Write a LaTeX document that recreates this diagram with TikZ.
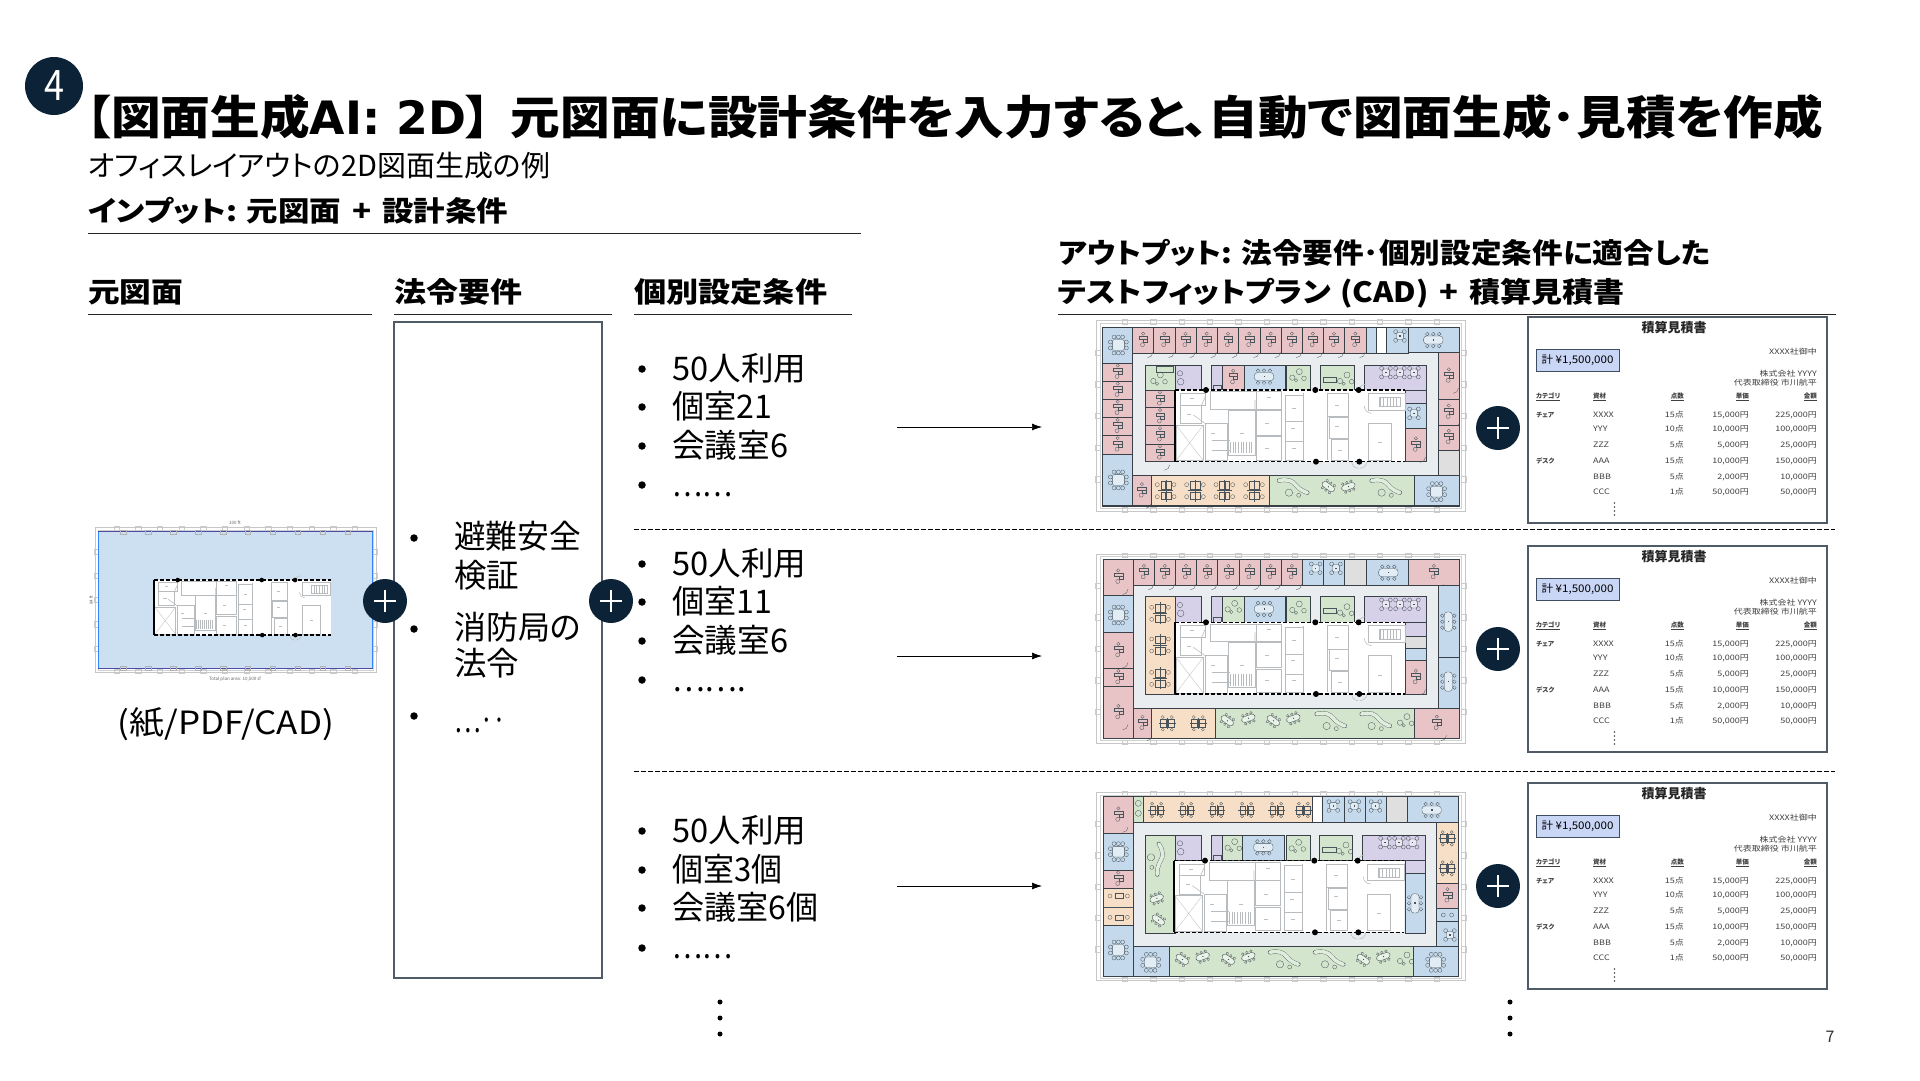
\documentclass[tikz,border=0pt]{standalone}
\usepackage{fontspec}
\usepackage{graphicx}
\setmainfont[RawFeature=+palt]{Noto Sans CJK JP}
\newfontfamily\lat{DejaVu Sans}
\definecolor{navy}{HTML}{0B2237}
\definecolor{cr}{HTML}{E8C4C6}
\definecolor{cb}{HTML}{C5D9EC}
\definecolor{cg}{HTML}{D3E5CD}
\definecolor{co}{HTML}{F6DFC6}
\definecolor{cp}{HTML}{D6D0E8}
\definecolor{ck}{HTML}{DFDFDF}
\definecolor{corr}{HTML}{E9EDF0}
\definecolor{wallc}{HTML}{3A4048}
\definecolor{furn}{HTML}{4A555B}
\definecolor{grayw}{HTML}{B9BCBE}
\definecolor{boxc}{HTML}{4F5B66}
\definecolor{badge}{HTML}{CAD6F6}
\definecolor{srcblue}{HTML}{CDE0F1}
\usetikzlibrary{arrows.meta}
\tikzset{
 fur/.style={draw=furn,line width=.32pt},
 gw/.style={draw=grayw,line width=.55pt},
 heading/.style={font=\bfseries\fontsize{28}{28}\selectfont,anchor=base west,inner sep=0pt},
 rule/.style={draw=black!85,line width=1pt},
 li/.style={font=\fontsize{32.5}{32.5}\selectfont,anchor=base west,inner sep=0pt},
 bul/.style={circle,fill=black,inner sep=0pt,minimum size=7.5pt},
 plus/.style={circle,fill=navy,minimum size=44pt,inner sep=0pt},
 arr/.style={draw=black,line width=.7pt,-{Latex[length=10pt,width=7pt]}},
 sep/.style={draw=black,line width=.8pt,dash pattern=on 4.5pt off 2.5pt},
 dott/.style={circle,fill=black,inner sep=0pt,minimum size=5pt},
 qt/.style={font=\fontsize{7.5}{7.5}\selectfont,text=black!75,inner sep=0pt},
}
\newcommand\RR[5]{\path[fill=#1,draw=wallc,line width=.45pt] (#2,#3) rectangle (#4,#5);}
\newcommand\Dsk[2]{\begin{scope}[shift={(#1,#2)}]
 \draw[fur] (0,-20) circle (5); \draw[fur] (-13,-12) rectangle (13,-3); \draw[fur] (1,-3) rectangle (13,6); \draw[fur] (-2,13) circle (6);
 \draw[fur] (29,36) arc (0:90:16);
 \end{scope}}
\newcommand\RD[4]{\RR{cr}{#1}{#2}{#3}{#4}\pgfmathsetmacro\cx{(#1+#3)/2}\pgfmathsetmacro\cy{(#2+#4)/2}\Dsk{\cx}{\cy}}
\newcommand\Mtg[3]{\begin{scope}[shift={(#1,#2)},rotate=#3]
 \foreach \q in {-18,0,18}{\draw[fur] (\q,-18) circle (5.5);\draw[fur] (\q,18) circle (5.5);}
 \draw[fur,fill=white,fill opacity=.5,rounded corners=3] (-29,-12) rectangle (29,12);
 \fill[furn] (-1,-2) rectangle (3,2);
 \end{scope}}
\newcommand\Rnd[2]{\begin{scope}[shift={(#1,#2)}]
 \foreach \p/\q in {-13/-13,13/-13,-13/13,13/13}{\draw[fur] (\p,\q) circle (6);}
 \draw[fur,fill=white,fill opacity=.5,rounded corners=2] (-11,-11) rectangle (11,11);
 \fill[furn] (-2,-2) rectangle (2,2);
 \end{scope}}
\newcommand\BigT[2]{\begin{scope}[shift={(#1,#2)}]
 \foreach \q in {-13,0,13}{\draw[fur] (\q,-24) circle (6);\draw[fur] (\q,24) circle (6);}
 \draw[fur] (-24,-9) circle (6);\draw[fur] (-24,9) circle (6);\draw[fur] (24,-9) circle (6);\draw[fur] (24,9) circle (6);
 \draw[fur,fill=white,fill opacity=.5,rounded corners=2] (-18,-16) rectangle (18,16);
 \end{scope}}
\newcommand\Wk[2]{\begin{scope}[shift={(#1,#2)}]
 \foreach \p/\q in {-25/-18,25/-18,-25/18,25/18}{\draw[fur] (\p,\q) circle (6);}
 \draw[fur] (-15,-27) rectangle (-1,-5);\draw[fur] (1,-27) rectangle (15,-5);
 \draw[fur] (-15,5) rectangle (-1,27);\draw[fur] (1,5) rectangle (15,27);
 \draw[fur] (0,-33) -- (0,33);\draw[fur] (-22,0) -- (22,0);
 \end{scope}}
\newcommand\WkH[2]{\begin{scope}[shift={(#1,#2)},rotate=90,scale=.75]
 \foreach \p/\q in {-25/-18,25/-18,-25/18,25/18}{\draw[fur] (\p,\q) circle (6);}
 \draw[fur] (-15,-27) rectangle (-1,-5);\draw[fur] (1,-27) rectangle (15,-5);
 \draw[fur] (-15,5) rectangle (-1,27);\draw[fur] (1,5) rectangle (15,27);
 \draw[fur] (0,-33) -- (0,33);\draw[fur] (-22,0) -- (22,0);
 \end{scope}}
\newcommand\Sofa[3]{\begin{scope}[shift={(#1,#2)},rotate=#3]
 \draw[furn,line width=.32pt,double=cg!70!white,double distance=3.6pt,line cap=round] (-45,-18) .. controls (-20,-24) and (-5,-18) .. (5,-5) .. controls (15,8) and (30,15) .. (40,18);
 \draw[fur] (-15,18) circle (11); \draw[fur] (14,26) circle (6);
 \end{scope}}
\newcommand\Cir[2]{\begin{scope}[shift={(#1,#2)}]
 \draw[fur] (-15,8) circle (8);\draw[fur] (6,-10) circle (9);\draw[fur] (20,10) circle (7);\draw[fur] (-4,16) circle (5);
 \end{scope}}
\newcommand\Gt[3]{\begin{scope}[shift={(#1,#2)},rotate=#3,scale=.72]\Mtg{0}{0}{0}\end{scope}}
\newcommand\Core[2]{\begin{scope}[shift={(#1,#2)}]
 \fill[white] (255,240) rectangle (945,455);
 \foreach \a/\b/\c/\d in {272/250/345/285, 272/285/335/340, 258/345/340/452, 362/245/500/298, 345/340/412/452, 415/300/495/435, 500/245/575/298, 500/300/575/375, 500/380/575/450, 585/255/640/335, 585/335/640/395, 585/395/640/450, 712/250/775/320, 718/322/775/385, 725/388/775/450, 835/250/945/300, 835/340/905/450, 868/262/930/290}{\draw[gw] (\a,\b) rectangle (\c,\d);}
 \draw[gw,line width=.3pt] (258,345) -- (340,452) (258,452) -- (340,345);
 \foreach \q in {420,428,...,490}{\draw[gw,line width=.3pt] (\q,395) -- (\q,430);}
 \foreach \q in {365,375,...,405}{\draw[gw,line width=.3pt] (\q,390) -- (\q+15,390);\draw[gw,line width=.3pt] (\q,420) -- (\q+15,420);}
 \foreach \q in {870,880,...,930}{\draw[gw,line width=.3pt] (\q,262) -- (\q,290);}
 \draw[gw] (345,340) -- (310,315) (335,285) -- (345,262) (495,298) -- (495,270);
 \draw[gw] (640,250) -- (640,450) (712,250) -- (712,450);
 \draw[gw] (805,245) arc (180:270:22) (845,310) arc (90:180:22);
 \draw[gw] (785,455) arc (180:90:20) (830,455) arc (0:90:20);
 \foreach \p/\q in {305/265,298/312,368/370,455/370,538/262,530/340,530/415,612/295,610/355,612/415,740/285,740/348,750/420,870/398}{\fill[black!25] (\p-6,\q-1) rectangle (\p+6,\q+1);}
 \draw[black,line width=1.2pt,dash pattern=on 4pt off 2pt] (255,240) -- (945,240) (255,455) -- (945,455);
 \draw[black,line width=1.2pt] (255,240) -- (255,455);
 \foreach \p/\q in {348/240,676/240,806/240,678/455,808/455}{\fill[black] (\p,\q) circle (9);}
 \end{scope}}
\newcommand\Frm[4]{
 \draw[draw=black!22,line width=.8pt] (#1,#2) rectangle (#3,#4);
 \draw[draw=black!18,line width=.4pt] (#1+10,#2+8) rectangle (#3-10,#4-8);
 \foreach \k in {1,...,12}{\pgfmathsetmacro\xk{#1+\k*(#3-#1)/13}
  \draw[draw=black!20,line width=.4pt] (\xk-8,#2-3) rectangle (\xk+8,#2+10);
  \draw[draw=black!20,line width=.4pt] (\xk-8,#4-10) rectangle (\xk+8,#4+3);}
 \foreach \k in {1,...,5}{\pgfmathsetmacro\yk{#2+\k*(#4-#2)/6}
  \draw[draw=black!20,line width=.4pt] (#1-3,\yk-8) rectangle (#1+10,\yk+8);
  \draw[draw=black!20,line width=.4pt] (#3-10,\yk-8) rectangle (#3+3,\yk+8);}
}
\newcommand\SX[1]{\scalebox{1.2}[1]{#1}}
\newcommand\Quote[2]{\begin{scope}[shift={(1528,#2)}]
 \coordinate (qa#1) at (0,0); \coordinate (qb#1) at (299,206);
 \draw[draw=boxc,line width=1.1pt] (qa#1) rectangle (qb#1);
 \node[font=\bfseries\fontsize{13}{13}\selectfont,text=black!85,inner sep=0pt] (q#1t) at (146,11) {積算見積書};
 \node[draw=navy!80,line width=1pt,fill=badge,minimum width=83pt,minimum height=22pt,inner sep=0pt,font=\fontsize{10.5}{10.5}\selectfont] (q#1b) at (49.5,43) {\resizebox{72pt}{\height}{計 ¥1,500,000}};
 \node[qt,anchor=east] (q#1c) at (289,35) {\SX{XXXX社御中}};
 \node[qt,anchor=east] (q#1d) at (289,57) {\SX{株式会社 YYYY}};
 \node[qt,anchor=east] (q#1e) at (289,66) {\SX{代表取締役 市川航平}};
 \node[qt,anchor=west,font=\bfseries\fontsize{6.5}{6.5}\selectfont] (q#1h1) at (8,80) {\underline{カテゴリ}};
 \node[qt,anchor=west,font=\bfseries\fontsize{6.5}{6.5}\selectfont] (q#1h2) at (65,80) {\underline{資材}};
 \node[qt,anchor=east,font=\bfseries\fontsize{6.5}{6.5}\selectfont] (q#1h3) at (156,80) {\underline{点数}};
 \node[qt,anchor=east,font=\bfseries\fontsize{6.5}{6.5}\selectfont] (q#1h4) at (221,80) {\underline{単価}};
 \node[qt,anchor=east,font=\bfseries\fontsize{6.5}{6.5}\selectfont] (q#1h5) at (289,80) {\underline{金額}};
 \foreach \i/\yy/\ca/\ma/\qu/\un/\am in {1/98/チェア/XXXX/15点/{15,000円}/{225,000円},2/112/{}/YYY/10点/{10,000円}/{100,000円},3/128/{}/ZZZ/5点/{5,000円}/{25,000円},4/144/デスク/AAA/15点/{10,000円}/{150,000円},5/160/{}/BBB/5点/{2,000円}/{10,000円},6/175/{}/CCC/1点/{50,000円}/{50,000円}}{
  \node[qt,anchor=west,font=\bfseries\fontsize{6.5}{6.5}\selectfont] (q#1a\i) at (8,\yy) {\ca};
  \node[qt,anchor=west] (q#1m\i) at (65,\yy) {\SX{\ma}};
  \node[qt,anchor=east] (q#1q\i) at (156,\yy) {\SX{\qu}};
  \node[qt,anchor=east] (q#1u\i) at (221,\yy) {\SX{\un}};
  \node[qt,anchor=east] (q#1v\i) at (289,\yy) {\SX{\am}};
 }
 \foreach \i/\yy in {1/186,2/190,3/194,4/198}{\fill[black!70] (86.5,\yy) circle (.8);}
 \end{scope}}
\newcommand\Plus[2]{\node[plus] (#1) at #2 {};
 \draw[white,line width=1.4pt] ([xshift=-11pt]#1.center) -- ([xshift=11pt]#1.center) ([yshift=-11pt]#1.center) -- ([yshift=11pt]#1.center);}
\newcommand\FW[2]{\resizebox{#1pt}{\height}{#2}}
\begin{document}
\begin{tikzpicture}[x=1pt,y=-1pt]
\useasboundingbox (0,0) rectangle (1920,1080);
\fill[white] (0,0) rectangle (1920,1080);

% header
\node[circle,fill=navy,minimum size=58pt,inner sep=0pt,text=white,font=\fontsize{42}{42}\selectfont] (num) at (54,86) {\FW{20}{4}};
\node[anchor=base west,inner sep=0pt,font=\bfseries\fontsize{46}{46}\selectfont] (title) at (86,134) {\FW{1737}{【図面生成\scalebox{.92}[1]{\lat AI: 2D}】\hspace{.4em}元図面に設計条件を入力すると、自動で図面生成･見積を作成}};
\node[anchor=base west,inner sep=0pt,font=\fontsize{29}{29}\selectfont] (sub) at (88,176) {\FW{462}{オフィスレイアウトの2D図面生成の例}};
\node[heading] (inh) at (88,221) {\FW{420}{インプット: 元図面\hspace{.35em}+\hspace{.35em}設計条件}};
\coordinate (r0a) at (88,233); \coordinate (r0b) at (861,233);
\draw[rule] (r0a) -- (r0b);
\node[heading] (h1) at (88,302) {\FW{95}{元図面}};
\node[heading] (h2) at (394,302) {\FW{128}{法令要件}};
\node[heading] (h3) at (634,302) {\FW{193}{個別設定条件}};
\foreach \n/\a/\b in {1/88/372,2/394/612,3/634/852}{\coordinate (ra\n) at (\a,314); \coordinate (rb\n) at (\b,314); \draw[rule] (ra\n) -- (rb\n);}
\node[heading] (o1) at (1058,263) {\FW{652}{アウトプット: 法令要件･個別設定条件に適合した}};
\node[heading] (o2) at (1058,302) {\FW{566}{テストフィットプラン\hspace{.3em}(CAD)\hspace{.35em}+\hspace{.35em}積算見積書}};
\coordinate (ra4) at (1058,314); \coordinate (rb4) at (1836,314); \draw[rule] (ra4) -- (rb4);

% source plan
\begin{scope}[shift={(80,520)},x=.3333pt,y=-.3333pt]
 \Frm{45}{22}{890}{458}
 \fill[srcblue] (55,35) rectangle (878,445);
 \draw[draw=black!22,line width=.4pt] (45,22) rectangle (890,458);
 \draw[blue!60!cyan!80!white,line width=.8pt] (55,445) -- (55,35) (878,35) -- (878,445);
 \draw[blue!50!black!70,line width=.8pt] (55,35) -- (878,35) (55,445) -- (878,445);
 \foreach \k in {1,...,10}{\pgfmathsetmacro\xk{55+\k*823/11}\draw[draw=black!30,line width=.35pt] (\xk-8,30) rectangle (\xk+8,42) (\xk-8,438) rectangle (\xk+8,450);}
\end{scope}
\begin{scope}[shift={(88.7,518.6)},x=.256pt,y=-.256pt]
 \Core{0}{0}
\end{scope}
\node[font=\fontsize{4.5}{4.5}\selectfont,text=black!60,inner sep=0pt] (srcw) at (235,523) {100 ft};
\node[font=\fontsize{4.5}{4.5}\selectfont,text=black!60,inner sep=0pt,rotate=90] (srch) at (91,600) {84 ft};
\node[font=\fontsize{4.5}{4.5}\selectfont,text=black!60,inner sep=0pt] (srca) at (235,679) {Total plan area: 10,500 sf};
\node[anchor=center,inner sep=0pt,font=\fontsize{32}{32}\selectfont] (src) at (226,724) {\FW{216}{(紙/PDF/CAD)}};

% law box
\node[draw=boxc,line width=1.1pt,fill=white,minimum width=208pt,minimum height=656pt,inner sep=0pt] (law) at (498,650) {};
\foreach \n/\y in {1/538,2/629,3/716}{\node[bul] (lb\n) at (414,\y) {};}
\node[li] (l1) at (454,548) {\FW{127}{避難安全}};
\node[li] (l2) at (454,587) {検証};
\node[li] (l3) at (454,639) {\FW{127}{消防局の}};
\node[li] (l4) at (454,675) {法令};
\node[li] (l5) at (454,732) {\FW{52}{…‥}};

% conditions
\foreach \n/\y in {1/369,2/407,3/446,4/485,5/564,6/602,7/641,8/680,9/831,10/870,11/908,12/948}{\node[bul] (b\n) at (642,\y) {};}
\node[li] (c1) at (672,380) {\FW{134}{50人利用}};
\node[li] (c2) at (672,418) {\FW{100}{個室21}};
\node[li] (c3) at (672,457) {\FW{116}{会議室6}};
\node[li] (c4) at (672,496) {\FW{60}{……}};
\node[li] (c5) at (672,575) {\FW{134}{50人利用}};
\node[li] (c6) at (672,613) {\FW{100}{個室11}};
\node[li] (c7) at (672,652) {\FW{116}{会議室6}};
\node[li] (c8) at (672,691) {\FW{74}{…….}};
\node[li] (c9) at (672,842) {\FW{134}{50人利用}};
\node[li] (c10) at (672,881) {\FW{110}{個室3個}};
\node[li] (c11) at (672,919) {\FW{146}{会議室6個}};
\node[li] (c12) at (672,958) {\FW{60}{……}};

% separators
\coordinate (s1a) at (634,529); \coordinate (s1b) at (1835,529); \draw[sep] (s1a) -- (s1b);
\coordinate (s2a) at (634,771); \coordinate (s2b) at (1835,771); \draw[sep] (s2a) -- (s2b);

% arrows
\foreach \n/\y in {1/427,2/656,3/886}{\coordinate (aa\n) at (897,\y); \coordinate (ab\n) at (1042,\y); \draw[arr] (aa\n) -- (ab\n);}

% plan 1
\begin{scope}[shift={(1090,310)},x=.3333pt,y=-.3333pt]
 \Frm{20}{32}{1125}{603}
 \fill[corr] (130,130) rectangle (1045,497);
 \RR{cb}{38}{52}{128}{160}\BigT{85}{105}
 \foreach \a/\b in {128/191,191/255,255/318,318/382,382/446,446/510,510/574,574/637,637/700,700/764,764/828}{\RD{\a}{52}{\b}{130}}
 \RR{cb}{828}{52}{858}{130}\RR{white}{858}{52}{890}{130}\RR{cb}{890}{52}{955}{130}\Rnd{930}{78}
 \RR{cb}{955}{52}{1108}{128}\Mtg{1030}{90}{0}
 \foreach \a/\b in {160/213,213/268,268/322,322/377,377/432}{\RD{38}{\a}{128}{\b}}
 \RR{cb}{38}{432}{128}{588}\BigT{85}{510}
 \RD{1045}{128}{1108}{268}\RD{1045}{268}{1108}{345}\RD{1045}{345}{1108}{420}
 \RR{ck}{1045}{420}{1108}{497}
 \RR{cb}{973}{497}{1108}{588}\BigT{1040}{545}
 \RD{128}{497}{183}{588}
 \RR{co}{183}{497}{538}{588}\foreach \q in {227,315,403,492}{\Wk{\q}{542}}
 \RR{cg}{538}{497}{973}{588}\Sofa{612}{530}{0}\Gt{715}{530}{-35}\Gt{775}{530}{20}\Sofa{890}{530}{0}
 \RR{cg}{165}{165}{255}{240}\Cir{205}{205}\draw[fur] (198,168) rectangle (250,185);
 \RR{cp}{255}{165}{333}{240}\draw[fur] (270,190) circle (8) (272,215) circle (10);
 \RR{cp}{365}{165}{397}{240}\draw[fur] (368,225) rectangle (394,240);
 \RD{397}{165}{462}{240}
 \RR{cb}{462}{165}{585}{240}\Mtg{522}{200}{0}
 \RR{cg}{590}{165}{662}{240}\Cir{622}{195}
 \RR{cg}{690}{165}{792}{240}\Cir{765}{205}\draw[fur] (700,200) rectangle (740,215);
 \RR{cp}{822}{165}{1010}{240}\Rnd{888}{188}\Rnd{930}{188}\Rnd{972}{188}
 \RD{165}{240}{255}{293}\RD{165}{293}{255}{347}\RD{165}{347}{255}{402}\RD{165}{402}{255}{455}
 \RR{cp}{945}{240}{1010}{280}\RR{cb}{945}{280}{1010}{355}\Rnd{972}{310}\RD{945}{355}{1010}{455}
 \Core{0}{0}
 \draw[wallc,line width=1.3pt] (38,52) rectangle (1108,588);
\end{scope}

% plan 2
\begin{scope}[shift={(1090,550)},x=.3333pt,y=-.3333pt]
 \Frm{20}{12}{1125}{580}
 \fill[corr] (130,107) rectangle (1045,475);
 \foreach \a/\b in {130/193,193/256,256/320,320/383,383/447,447/510,510/574,574/637}{\RD{\a}{28}{\b}{107}}
 \RR{cb}{637}{28}{700}{107}\Rnd{677}{55}\RR{cb}{700}{28}{764}{107}\Rnd{738}{55}
 \RR{ck}{764}{28}{828}{107}
 \RR{cb}{828}{28}{955}{107}\Mtg{895}{68}{0}
 \RD{955}{28}{1108}{107}
 \RD{40}{28}{130}{135}
 \RR{cb}{40}{135}{130}{248}\BigT{85}{195}
 \RD{40}{248}{130}{355}\RD{40}{355}{130}{410}\RD{40}{410}{130}{565}
 \RR{cb}{1045}{107}{1108}{322}\Mtg{1075}{215}{90}
 \RR{cb}{1045}{322}{1108}{475}\Mtg{1075}{395}{90}
 \RD{130}{475}{185}{565}
 \RR{co}{185}{475}{375}{565}\WkH{232}{520}\WkH{325}{520}
 \RR{cg}{375}{475}{973}{565}\Gt{412}{512}{-35}\Gt{475}{505}{20}\Gt{550}{512}{-35}\Gt{610}{505}{20}\Sofa{725}{510}{0}\Sofa{860}{510}{0}\Cir{945}{510}
 \RD{973}{475}{1108}{565}
 \RR{co}{165}{140}{255}{433}\foreach \q in {190,285,385}{\Wk{210}{\q}}
 \RR{cp}{255}{140}{333}{217}\draw[fur] (270,165) circle (8) (272,190) circle (10);
 \RR{cp}{365}{140}{397}{217}\draw[fur] (368,200) rectangle (394,217);
 \RR{cg}{397}{140}{462}{217}\Cir{428}{170}
 \RR{cb}{462}{140}{585}{217}\Mtg{522}{177}{0}
 \RR{cg}{590}{140}{662}{217}\Cir{622}{172}
 \RR{cg}{690}{140}{792}{217}\Cir{765}{180}\draw[fur] (700,175) rectangle (740,190);
 \RR{cp}{822}{140}{1010}{217}\Rnd{888}{163}\Rnd{930}{163}\Rnd{972}{163}
 \RR{cp}{945}{217}{1010}{258}\RR{ck}{945}{258}{1010}{295}\RR{cb}{945}{295}{1010}{332}\RD{945}{332}{1010}{433}
 \Core{0}{-23}
 \draw[wallc,line width=1.3pt] (40,28) rectangle (1108,565);
\end{scope}

% plan 3
\begin{scope}[shift={(1090,790)},x=.3333pt,y=-.3333pt]
 \Frm{20}{8}{1125}{572}
 \fill[corr] (130,98) rectangle (1040,470);
 \RD{40}{20}{130}{130}
 \RR{cg}{130}{20}{160}{98}\draw[fur] (145,40) circle (9) (145,70) circle (9);
 \RR{co}{160}{20}{668}{98}\foreach \q in {200,290,380,470,560,640}{\WkH{\q}{60}}
 \RR{white}{668}{20}{698}{98}
 \foreach \a/\b in {698/762,762/825,825/888}{\RR{cb}{\a}{20}{\b}{98}\pgfmathsetmacro\cx{(\a+\b)/2}\Rnd{\cx}{48}}
 \RR{ck}{888}{20}{952}{98}
 \RR{cb}{952}{20}{1105}{98}\Mtg{1025}{60}{0}
 \RR{cb}{40}{130}{130}{240}\BigT{85}{185}
 \RD{40}{240}{130}{295}
 \RR{co}{40}{295}{130}{405}\draw[fur] (40,350) -- (130,350);\foreach \q in {60,112}{\draw[fur] (\q,318) circle (6) (\q,382) circle (6);}\draw[fur] (75,310) rectangle (98,325) (75,375) rectangle (98,390);
 \RR{cb}{40}{405}{130}{560}\BigT{85}{480}
 \RR{cb}{130}{470}{238}{560}\BigT{182}{517}
 \RR{cg}{238}{470}{970}{560}\Gt{277}{508}{-35}\Gt{338}{500}{20}\Gt{415}{508}{-35}\Gt{475}{500}{20}\Sofa{585}{505}{0}\Sofa{720}{505}{0}\Gt{820}{508}{-35}\Gt{880}{500}{20}\Cir{945}{505}
 \RR{cb}{970}{470}{1105}{560}\BigT{1037}{517}
 \RR{co}{1040}{98}{1105}{280}\WkH{1072}{145}\WkH{1072}{235}
 \RD{1040}{280}{1105}{355}
 \RR{cb}{1040}{355}{1105}{395}\draw[fur] (1060,375) circle (6) (1085,375) circle (6);
 \RR{cb}{1040}{395}{1105}{470}\Rnd{1080}{435}
 \RR{cg}{165}{135}{255}{430}\Sofa{205}{210}{-70}\Gt{200}{325}{20}\Gt{205}{390}{-35}
 \RR{cp}{255}{135}{333}{212}\draw[fur] (270,160) circle (8) (272,185) circle (10);
 \RR{cp}{365}{135}{397}{212}\draw[fur] (368,195) rectangle (394,212);
 \RR{cg}{397}{135}{458}{212}\Cir{428}{165}
 \RR{cb}{458}{135}{583}{212}\Mtg{520}{172}{0}
 \RR{cg}{588}{135}{660}{212}\Cir{620}{167}
 \RR{cg}{688}{135}{788}{212}\Cir{762}{175}\draw[fur] (698,170) rectangle (738,185);
 \RR{cp}{818}{135}{1007}{212}\Rnd{885}{158}\Rnd{927}{158}\Rnd{968}{158}
 \RR{cp}{945}{212}{1007}{250}
 \RR{cb}{945}{250}{1007}{430}\Mtg{975}{340}{90}
 \Core{-3}{-28}
 \draw[wallc,line width=1.3pt] (40,20) rectangle (1105,560);
\end{scope}

% quotes
\Quote{1}{317}
\Quote{2}{546}
\Quote{3}{783}

% plus signs
\Plus{p1}{(385,601)}
\Plus{p2}{(611,601)}
\Plus{p3}{(1498,428)}
\Plus{p4}{(1498,649)}
\Plus{p5}{(1498,886)}

% continuation dots
\foreach \n/\y in {1/1002,2/1018,3/1034}{\node[dott] (d\n) at (720,\y) {};\node[dott] (e\n) at (1510,\y) {};}
\node[inner sep=0pt,font=\fontsize{16}{16}\selectfont,text=black!80] (pg) at (1830,1037) {7};
\end{tikzpicture}
\end{document}
